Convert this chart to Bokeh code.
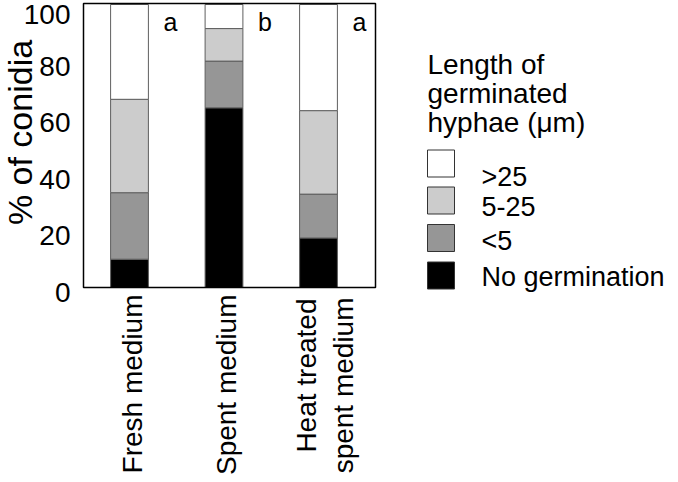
import numpy as np
from math import pi
from bokeh.plotting import figure
from bokeh.models import Range1d, BoxAnnotation, ColumnDataSource
from bokeh.core.properties import value
from bokeh.embed import file_html
from bokeh.resources import INLINE

# ---------------- data ----------------
categories = ["Fresh medium", "Spent medium", "Heat treated\nspent medium"]
no_germination = [10.0, 63.5, 17.5]
lt5 = [23.5, 16.5, 15.5]
b5_25 = [33.0, 11.5, 29.5]
gt25 = [33.5, 8.5, 37.5]
letters = ["a", "b", "a"]
legend_labels = [">25", "5-25", "<5", "No germination"]
legend_title = ["Length of", "germinated", "hyphae (\u03bcm)"]
y_ticks = [0, 20, 40, 60, 80, 100]
y_tick_labels = ["0", "20", "40", "60", "80", "100"]

FONT = "Liberation Sans"
W, H = 670, 474
PX_PER_X = 94.5          # pixels per category step
X_ONE = 129              # pixel position of first category
Y_ZERO = 287             # pixel row of value 0
PX_PER_Y = 2.83          # pixels per percent

X0 = 1 - X_ONE / PX_PER_X
X1 = X0 + W / PX_PER_X
Y1 = Y_ZERO / PX_PER_Y
Y0 = Y1 - H / PX_PER_Y


def dx(px):
    return 1 + (px - X_ONE) / PX_PER_X


def dy(py):
    return (Y_ZERO - py) / PX_PER_Y


p = figure(width=W, height=H, output_backend="svg", toolbar_location=None,
           x_range=Range1d(X0, X1), y_range=Range1d(Y0, Y1),
           min_border=0, min_border_left=0, min_border_right=0,
           min_border_top=0, min_border_bottom=0)
p.outline_line_color = None
p.grid.visible = False
p.axis.visible = False
p.background_fill_color = "white"

# ---- stacked bars ----
xpos = np.arange(1, len(categories) + 1)
seg_vals = [no_germination, lt5, b5_25, gt25]
colors = ["#000000", "#969696", "#cccccc", "#ffffff"]
bottom = np.zeros(len(categories))
for vals, c in zip(seg_vals, colors):
    top = bottom + np.array(vals)
    src = ColumnDataSource(dict(x=xpos, bottom=bottom, top=top))
    p.vbar(x="x", bottom="bottom", top="top", width=0.40, source=src,
           fill_color=c, line_color="#5f5f5f", line_width=1)
    bottom = top

# ---- plot box ----
p.add_layout(BoxAnnotation(left=dx(83), right=dx(375), bottom=0, top=dy(3),
                           fill_color=None, line_color="black", line_alpha=1.0,
                           line_width=1.5))

# ---- y tick labels ----
tick_src = ColumnDataSource(dict(
    x=[dx(70)] * len(y_ticks), y=y_ticks, text=y_tick_labels,
    off=[5, 5, 5, 5, 5, 10]))
p.text(x="x", y="y", text="text", y_offset="off", source=tick_src,
       text_font=value(FONT), text_font_size="28px", text_align="right",
       text_baseline="middle", text_color="black")

# ---- y title ----
p.text(x=[dx(19)], y=[dy(132)], text=["% of conidia"], angle=pi / 2,
       text_font=value(FONT), text_font_size="34px", text_align="center",
       text_baseline="middle", text_color="black")

# ---- significance letters ----
p.text(x=xpos + (dx(170) - 1), y=[dy(21)] * 3, text=letters,
       text_font=value(FONT), text_font_size="25px", text_align="center",
       text_baseline="middle", text_color="black")

# ---- category labels (rotated) ----
l1, l2 = categories[2].split("\n")
cat_txt = [categories[0], categories[1], l1, l2]
cat_x = [xpos[0] + dx(132) - 1, xpos[1] + dx(226) - 2, xpos[2] + dx(306) - 3,
         xpos[2] + dx(343) - 3]
cat_y = [dy(294), dy(294), dy(298), dy(297)]
p.text(x=cat_x, y=cat_y, text=cat_txt, angle=pi / 2,
       text_font=value(FONT), text_font_size="28px", text_align="right",
       text_baseline="middle", text_color="black")

# ---- legend title ----
p.text(x=[dx(427)] * 3, y=[dy(v) for v in (64, 93, 122)], text=legend_title,
       text_font=value(FONT), text_font_size="28px", text_align="left",
       text_baseline="middle", text_color="black")

# ---- legend swatches and labels ----
sw_y = [163, 200, 237.5, 275]
txt_y = [176, 206, 240, 276]
p.rect(x=[dx(440.5)] * 4, y=[dy(v) for v in sw_y], width=27, height=27,
       width_units="screen", height_units="screen",
       fill_color=colors[::-1], line_color="#333333", line_width=1)
p.text(x=[dx(481)] * 4, y=[dy(v) for v in txt_y], text=legend_labels,
       text_font=value(FONT), text_font_size="27px", text_align="left",
       text_baseline="middle", text_color="black")

open("out.html", "w").write(file_html(p, INLINE))
